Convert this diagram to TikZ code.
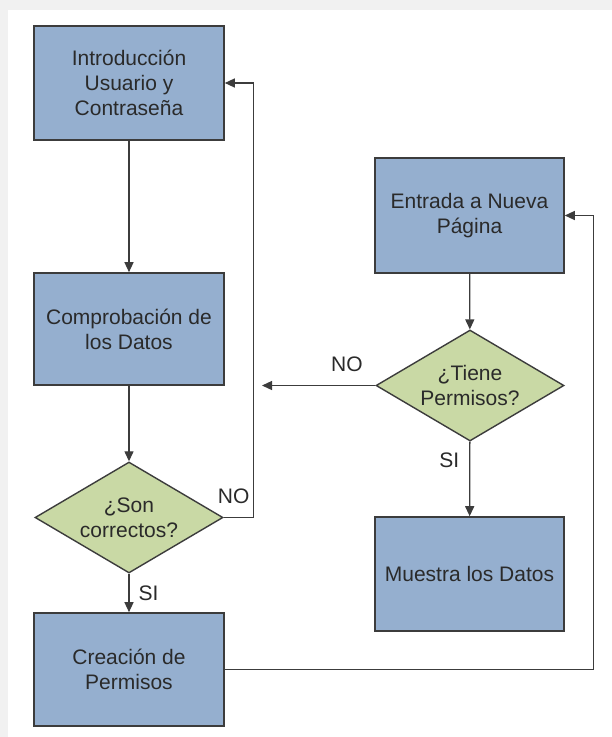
\documentclass[tikz,border=0pt]{standalone}
\usepackage{fontspec}
\setmainfont{Liberation Sans}
\usetikzlibrary{arrows.meta,shapes.geometric}
\definecolor{boxfill}{HTML}{95AFCF}
\definecolor{decfill}{HTML}{C9D9A5}
\definecolor{edge}{HTML}{3C3C3C}
\definecolor{ink}{HTML}{2A2A2A}
\definecolor{frame}{HTML}{F1F1F1}
\begin{document}
\begin{tikzpicture}[x=1pt,y=-1pt,
  every node/.style={font=\fontsize{21}{25}\selectfont, text=ink},
  procbox/.style={draw=edge, line width=1.6pt, fill=boxfill, align=center,
    minimum width=190pt, minimum height=114pt, inner sep=0pt},
  decision/.style={diamond, draw=edge, line width=1.4pt, fill=decfill, align=center,
    aspect=1.7, minimum width=188pt, minimum height=111pt, inner sep=0pt},
  flow/.style={draw=edge, line width=1.3pt, -{Triangle[length=10pt,width=9pt]}},
  tag/.style={inner sep=0pt}]
  % page frame
  \fill[frame] (0,0) rectangle (612,737);
  \fill[white] (8,10) rectangle (612,737);
  \useasboundingbox (0,0) rectangle (612,737);

  % left column
  \node[procbox] (b1) at (129,83) {Introducción\\Usuario y\\Contraseña};
  \node[procbox, minimum height=112pt] (b2) at (129,329) {Comprobación de\\los Datos};
  \node[decision] (d1) at (129,517.5) {¿Son\\correctos?};
  \node[procbox, minimum height=113pt] (b3) at (129,669.5) {Creación de\\Permisos};

  % right column
  \node[procbox, minimum width=189pt, minimum height=115pt] (b4) at (469.5,215.5) {Entrada a Nueva\\Página};
  \node[decision] (d2) at (470,385.5) {¿Tiene\\Permisos?};
  \node[procbox, minimum width=189pt] (b5) at (469.5,574) {Muestra los Datos};
  \coordinate (noend) at (262,385.5);

  % connectors
  \draw[flow] (b1) -- (b2);
  \draw[flow] (b2) -- (d1);
  \draw[flow] (d1) -- node[tag, right=9pt] {SI} (b3);
  \draw[flow] (d1.east) -- node[tag, pos=0.33, above=13pt] {NO} ++(30,0) |- (b1.east);
  \draw[flow] (b4) -- (d2);
  \draw[flow] (d2) -- node[tag, pos=0.25, left=10pt] {SI} (b5);
  \draw[flow] (d2.west) -- node[tag, pos=0.25, above=13pt] {NO} (noend);
  \draw[flow] (b3.east) -- ++(369,0) |- (b4.east);
\end{tikzpicture}
\end{document}
